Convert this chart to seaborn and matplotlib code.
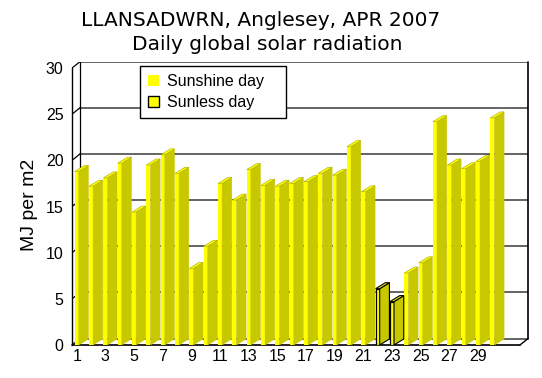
import pandas as pd
import seaborn as sns
import matplotlib.pyplot as plt
from matplotlib.patches import Polygon, Patch

# Daily global solar radiation, Llansadwrn, April 2007 (MJ per m2)
days = list(range(1, 31))
radiation = [18.8, 17.2, 18.1, 19.7, 14.4, 19.5, 20.6, 18.6, 8.3, 10.7,
             17.5, 15.7, 19.0, 17.3, 17.2, 17.5, 17.7, 18.6, 18.4, 21.5,
             16.6, 6.1, 4.7, 7.8, 8.9, 24.2, 19.5, 19.1, 19.9, 24.6]
sunless_days = [22, 23]
kind = ["Sunless day" if d in sunless_days else "Sunshine day" for d in days]
y_ticks = [0, 5, 10, 15, 20, 25, 30]

df = pd.DataFrame({"day": [str(d) for d in days], "radiation": radiation, "kind": kind})

sns.set_style("white")
plt.rcParams["font.family"] = ["Liberation Sans", "DejaVu Sans"]
plt.rcParams["text.color"] = "black"
plt.rcParams["xtick.color"] = "black"
plt.rcParams["ytick.color"] = "black"

W, H = 542, 378
fig = plt.figure(figsize=(W / 100, H / 100), dpi=100)
ax = fig.add_axes([72 / W, 33 / H, 456 / W, 283.4 / H])

yellow = "#FFFF00"
olive = "#C8C800"

sns.barplot(data=df, x="day", y="radiation", hue="kind",
            palette={"Sunshine day": yellow, "Sunless day": yellow},
            dodge=False, width=0.28, saturation=1, legend=False,
            linewidth=0, ax=ax, zorder=3)

x0, x1 = -0.33, 31.49
ax.set_xlim(x0, x1)
ax.set_ylim(0, 30.7)

# back wall offsets (data units)
wdx, wdy = 0.56, 0.70
bdx, bdy = 0.68, 0.65

for v in y_ticks:
    ax.plot([x0 + wdx, x1], [v + wdy, v + wdy], color="#4a4a4a", lw=1.2, zorder=1)
    ax.plot([x0, x0 + wdx], [v, v + wdy], color="black", lw=0.9, zorder=1)
ax.plot([x0 + wdx, x0 + wdx], [wdy, 30 + wdy], color="black", lw=0.9, zorder=1)
ax.plot([x1, x1], [wdy, 30 + wdy], color="black", lw=1.2, zorder=1, clip_on=False)
ax.plot([x0, x1 - wdx], [0, 0], color="black", lw=1.2, zorder=1, clip_on=False)
ax.plot([x1 - wdx, x1], [0, wdy], color="black", lw=1.0, zorder=1, clip_on=False)

# 3D side and top faces for each bar
for p in ax.patches:
    xl = p.get_x()
    w = p.get_width()
    v = p.get_height()
    idx = int(round(xl + w / 2))
    edge = "black" if days[idx] in sunless_days else None
    xr = xl + w
    side = Polygon([(xr, 0), (xr + bdx, bdy), (xr + bdx, v + bdy), (xr, v)],
                   closed=True, facecolor=olive,
                   edgecolor=edge if edge else olive, lw=0.8 if edge else 0.3, zorder=3)
    top = Polygon([(xl, v), (xr, v), (xr + bdx, v + bdy), (xl + bdx, v + bdy)],
                  closed=True, facecolor=yellow,
                  edgecolor=edge if edge else "#A8A800", lw=0.8 if edge else 0.4, zorder=4)
    ax.add_patch(side)
    ax.add_patch(top)
    if edge:
        p.set_edgecolor("black")
        p.set_linewidth(0.9)

for s in ["top", "right", "bottom"]:
    ax.spines[s].set_visible(False)
ax.spines["left"].set_bounds(0, 30)
ax.spines["left"].set_color("black")
ax.spines["left"].set_linewidth(1.0)

ax.set_yticks(y_ticks)
ax.set_yticklabels([str(v) for v in y_ticks])
ax.set_xticks(range(0, 30, 2))
ax.set_xticklabels([str(d) for d in days[::2]])
ax.tick_params(axis="y", direction="out", length=4, width=0.9, color="black",
               labelcolor="black", labelsize=11.5, pad=2)
ax.tick_params(axis="x", length=0, labelcolor="black", labelsize=11.5, pad=3)
ax.set_xlabel("")
ax.set_ylabel("")

fig.text(30 / W, 1 - 205 / H, "MJ per m2", rotation=90, ha="center", va="center",
         fontsize=14, color="black")

fig.text(260.5 / W, 1 - 21 / H, "LLANSADWRN, Anglesey, APR 2007", ha="center",
         va="center", fontsize=14.5, family="DejaVu Sans", color="black")
fig.text(267.5 / W, 1 - 45 / H, "Daily global solar radiation", ha="center",
         va="center", fontsize=14.5, family="DejaVu Sans", color="black")

handles = [Patch(facecolor=yellow, edgecolor=yellow, lw=0),
           Patch(facecolor=yellow, edgecolor="black", lw=1.0)]
leg = ax.legend(handles, ["Sunshine day   ", "Sunless day"], loc="upper left",
                bbox_to_anchor=(140 / W, 1 - 66 / H), bbox_transform=fig.transFigure,
                fontsize=11.5, frameon=True, fancybox=False, framealpha=1,
                edgecolor="black", handlelength=0.7, handleheight=0.7,
                handletextpad=0.5, borderpad=0.5, labelspacing=0.4,
                borderaxespad=0)
leg.get_frame().set_linewidth(1.0)
for t in leg.get_texts():
    t.set_color("black")
leg.set_zorder(10)

fig.savefig("out.png", dpi=100)
